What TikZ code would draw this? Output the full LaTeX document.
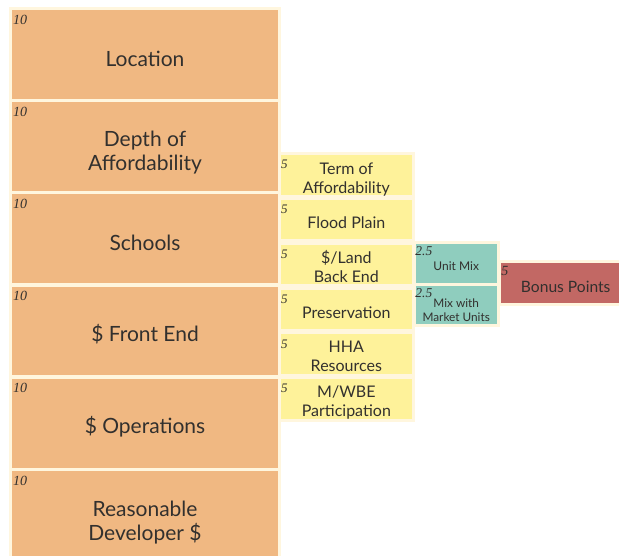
\documentclass[tikz,border=0pt]{standalone}
\usepackage{fontspec}
\setmainfont{Lato}
\newfontfamily\ptsfont{Liberation Serif}
\definecolor{cream}{RGB}{255,246,222}
\definecolor{critfill}{RGB}{240,184,130}
\definecolor{subfill}{RGB}{254,242,154}
\definecolor{mixfill}{RGB}{143,205,190}
\definecolor{bonusfill}{RGB}{194,104,100}
\definecolor{txt}{RGB}{50,48,46}

\begin{document}
\begin{tikzpicture}[x=1pt, y=-1pt,
        box/.style={draw=cream, line width=3pt, outer sep=0pt, inner sep=0pt,
          anchor=north west, align=center, text=txt,
          execute at begin node={\rule{0pt}{1.15em}}},
        crit/.style={box, fill=critfill, minimum width=268.4pt,
          minimum height=91.7pt, font=\fontsize{21}{24}\selectfont},
        sub/.style={box, fill=subfill, minimum width=133.7pt,
          minimum height=42.5pt, font=\fontsize{16}{19}\selectfont},
        mix/.style={box, fill=mixfill, minimum width=84pt,
          minimum height=41.7pt, font=\fontsize{12}{14}\selectfont},
        bonus/.style={box, fill=bonusfill, minimum width=133pt,
          minimum height=43pt, font=\fontsize{15.6}{20}\selectfont},
        pts/.style={anchor=north west, inner sep=0pt, text=txt,
          font=\ptsfont\itshape\fontsize{14}{14}\selectfont}]
        \useasboundingbox (0,0) rectangle (619,556);

        \node [crit] (location) at (10.8,8.5) {Location};
        \node [crit] (depth) at (10.8,100.7)
          {\rule{0pt}{28pt}Depth of\\Affordability};
        \node [crit] (schools) at (10.8,192.9) {Schools};
        \node [crit] (frontend) at (10.8,285.1) {\$ Front End};
        \node [crit] (operations) at (10.8,377.3) {\$ Operations};
        \node [crit] (developer) at (10.8,469.5)
          {\rule{0pt}{30pt}Reasonable\\Developer \$};

        \node [sub] (term) at (279.5,153.5) {\rule{0pt}{21.5pt}Term of\\Affordability};
        \node [sub] (flood) at (279.5,198.35) {Flood Plain};
        \node [sub] (land) at (279.5,243.2) {\rule{0pt}{17pt}\$/Land\\Back End};
        \node [sub] (preservation) at (279.5,288.05) {Preservation};
        \node [sub] (hha) at (279.5,332.9) {\rule{0pt}{16pt}HHA\\Resources};
        \node [sub] (mwbe) at (279.5,377.75) {\rule{0pt}{18pt}M/WBE\\Participation};

        \node [mix] (unitmix) at (414.2,242.5) {Unit Mix};
        \node [mix, font=\fontsize{11.8}{14}\selectfont] (market) at (414.2,284.2)
          {\rule{0pt}{19pt}Mix with\\Market Units};

        \node [bonus] (bonuspts) at (499.2,261.8) {Bonus Points};

        \node [pts] (locationpts) at ([shift={(2,6)}]location.north west) {10};
        \node [pts] (depthpts) at ([shift={(2,6)}]depth.north west) {10};
        \node [pts] (schoolspts) at ([shift={(2,6)}]schools.north west) {10};
        \node [pts] (frontendpts) at ([shift={(2,6)}]frontend.north west) {10};
        \node [pts] (operationspts) at ([shift={(2,6)}]operations.north west) {10};
        \node [pts] (developerpts) at ([shift={(2,6)}]developer.north west) {10};

        \node [pts, font=\ptsfont\itshape\fontsize{13}{13}\selectfont]
          (termpts) at ([shift={(1.5,6.5)}]term.north west) {5};
        \node [pts, font=\ptsfont\itshape\fontsize{13}{13}\selectfont]
          (floodpts) at ([shift={(1.5,6.5)}]flood.north west) {5};
        \node [pts, font=\ptsfont\itshape\fontsize{13}{13}\selectfont]
          (landpts) at ([shift={(1.5,6.5)}]land.north west) {5};
        \node [pts, font=\ptsfont\itshape\fontsize{13}{13}\selectfont]
          (preservationpts) at ([shift={(1.5,6.5)}]preservation.north west) {5};
        \node [pts, font=\ptsfont\itshape\fontsize{13}{13}\selectfont]
          (hhapts) at ([shift={(1.5,6.5)}]hha.north west) {5};
        \node [pts, font=\ptsfont\itshape\fontsize{13}{13}\selectfont]
          (mwbepts) at ([shift={(1.5,6.5)}]mwbe.north west) {5};

        \node [pts, font=\ptsfont\itshape\fontsize{13.5}{13.5}\selectfont]
          (unitmixpts) at ([shift={(1,4.2)}]unitmix.north west) {2.5};
        \node [pts, font=\ptsfont\itshape\fontsize{13.5}{13.5}\selectfont]
          (marketpts) at ([shift={(1,4.2)}]market.north west) {2.5};
        \node [pts] (bonusptspts) at ([shift={(2,4.2)}]bonuspts.north west) {5};

\end{tikzpicture}
\end{document}
